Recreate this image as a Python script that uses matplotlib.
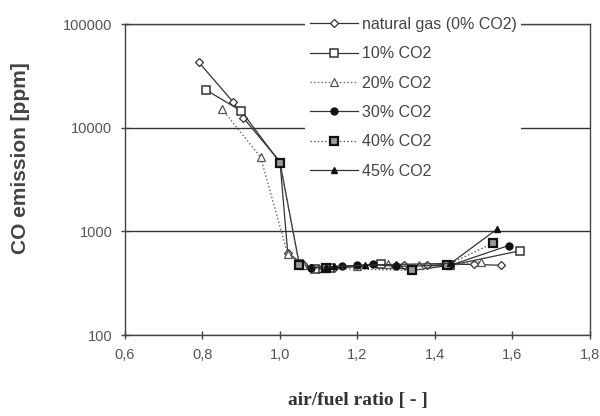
import numpy as np
import matplotlib.pyplot as plt
from matplotlib.ticker import FixedLocator, FuncFormatter, NullLocator

# CO emission vs air/fuel ratio
ng_x = [0.79, 0.88, 0.905, 1.00, 1.02, 1.06, 1.10, 1.14, 1.20, 1.26, 1.32, 1.38, 1.44, 1.50, 1.57]
ng_y = [43000, 17500, 12500, 4700, 620, 480, 430, 440, 460, 480, 470, 470, 480, 480, 470]

co2_10_x = [0.81, 0.90, 1.00, 1.05, 1.09, 1.13, 1.26, 1.34, 1.44, 1.62]
co2_10_y = [23000, 14500, 4600, 480, 430, 440, 480, 420, 470, 650]

co2_20_x = [0.85, 0.95, 1.02, 1.06, 1.12, 1.20, 1.28, 1.36, 1.44, 1.52]
co2_20_y = [15200, 5200, 600, 470, 440, 460, 480, 470, 470, 510]

co2_30_x = [1.08, 1.12, 1.16, 1.20, 1.24, 1.30, 1.44, 1.59]
co2_30_y = [440, 450, 460, 470, 480, 460, 470, 730]

co2_40_x = [1.00, 1.05, 1.12, 1.34, 1.43, 1.55]
co2_40_y = [4600, 470, 440, 420, 470, 770]

co2_45_x = [1.08, 1.12, 1.14, 1.22, 1.30, 1.44, 1.56]
co2_45_y = [450, 450, 460, 470, 480, 490, 1050]

labels = ['natural gas (0% CO2)', '10% CO2', '20% CO2', '30% CO2', '40% CO2', '45% CO2']
x_ticks = [0.6, 0.8, 1.0, 1.2, 1.4, 1.6, 1.8]
y_ticks = [100, 1000, 10000, 100000]

fig = plt.figure(figsize=(6, 4.16), dpi=100)
ax = fig.add_axes([0.2083, 0.1947, 0.775, 0.7476])

dark = '#333333'
ax.plot(ng_x, ng_y, color=dark, lw=0.9, marker='D', ms=4, mfc='white', mec=dark, mew=0.9, label=labels[0])
ax.plot(co2_10_x, co2_10_y, color=dark, lw=0.9, marker='s', ms=6, mfc='white', mec=dark, mew=1.1, label=labels[1])
ax.plot(co2_20_x, co2_20_y, color='#666666', lw=1.0, ls=':', marker='^', ms=6, mfc='white', mec='#555555', mew=0.9, label=labels[2])
ax.plot(co2_30_x, co2_30_y, color=dark, lw=0.9, marker='o', ms=5, mfc='#111111', mec='#111111', label=labels[3])
ax.plot(co2_40_x, co2_40_y, color='#555555', lw=1.0, ls=':', marker='s', ms=6, mfc='#999999', mec='#111111', mew=1.6, label=labels[4])
ax.plot(co2_45_x, co2_45_y, color=dark, lw=0.9, marker='^', ms=4.5, mfc='#111111', mec='#111111', label=labels[5])

ax.set_yscale('log')
ax.set_xlim(0.6, 1.8)
ax.set_ylim(100, 100000)
ax.yaxis.set_major_locator(FixedLocator(y_ticks))
ax.yaxis.set_minor_locator(NullLocator())
ax.yaxis.set_major_formatter(FuncFormatter(lambda v, p: f'{int(round(v))}'))
ax.set_xticks(x_ticks)
ax.xaxis.set_major_formatter(FuncFormatter(lambda v, p: f'{v:.1f}'.replace('.', ',')))

ax.grid(axis='y', which='major', color=dark, lw=1.0)
ax.set_axisbelow(True)
for s in ax.spines.values():
    s.set_color('#444444')
    s.set_linewidth(1.0)
ax.tick_params(axis='both', direction='inout', length=6, width=1.0, color='#444444',
               labelsize=10.5, labelcolor='#555555', pad=6)
for t in ax.get_xticklabels() + ax.get_yticklabels():
    t.set_family(['Liberation Sans', 'DejaVu Sans'])

ax.set_ylabel('CO emission [ppm]', fontsize=15, fontweight='bold', color='#444444',
              family=['Liberation Sans', 'DejaVu Sans'])
ax.yaxis.set_label_coords(-0.205, 0.57)
ax.set_xlabel('air/fuel ratio [ - ]', fontsize=14, fontweight='bold', color='#333333',
              family=['Liberation Serif', 'DejaVu Serif'], labelpad=22)

leg = ax.legend(loc='upper left', bbox_to_anchor=(297 / 600, 1 - 4 / 416), bbox_transform=fig.transFigure,
                frameon=True, fancybox=False, edgecolor='none', facecolor='white', framealpha=1.0,
                handlelength=3.0, handletextpad=0.25, labelspacing=0.9, borderpad=0.3,
                prop={'family': ['Liberation Sans', 'DejaVu Sans'], 'size': 11.5})
for t in leg.get_texts():
    t.set_color('#444444')
leg.set_zorder(5)

fig.savefig('out.png', dpi=100)
